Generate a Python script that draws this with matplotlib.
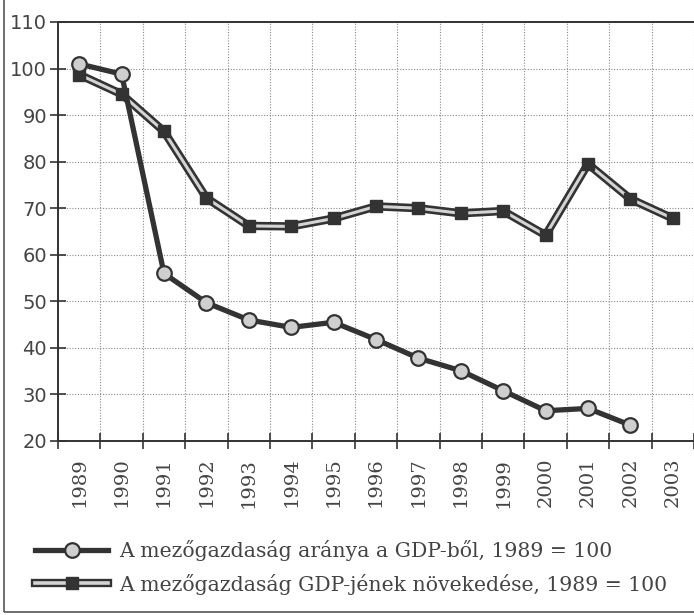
import matplotlib
matplotlib.use("Agg")
import matplotlib.pyplot as plt
from matplotlib.lines import Line2D
from matplotlib.legend_handler import HandlerTuple
from matplotlib.patches import Rectangle
import numpy as np

# data (1989 = 100)
years = ['1989', '1990', '1991', '1992', '1993', '1994', '1995', '1996',
         '1997', '1998', '1999', '2000', '2001', '2002', '2003']
share_of_gdp = [101, 98.8, 56, 49.7, 46, 44.4, 45.5, 41.8, 37.8, 35.1,
                30.8, 26.5, 27, 23.4]
agri_gdp_growth = [98.7, 94.5, 86.5, 72.2, 66.2, 66.1, 67.8, 70.4, 70.0,
                   68.9, 69.4, 64.2, 79.5, 72.0, 67.8]
label_share = 'A mezőgazdaság aránya a GDP-ből, 1989 = 100'
label_growth = 'A mezőgazdaság GDP-jének növekedése, 1989 = 100'

dark = '#333333'
light = '#d4d4d4'
text_col = '#444444'

fig = plt.figure(figsize=(6.94, 6.15), dpi=100)
ax = fig.add_axes([58/694, 1 - 441/615, 1 - 58/694, (441 - 22)/615])

x_all = np.arange(len(years))
x_share = np.arange(len(share_of_gdp))

# growth series: "tube" line (dark outline, light core) + dark squares
ax.plot(x_all, agri_gdp_growth, color=dark, lw=6.0, solid_joinstyle='miter', zorder=3)
ax.plot(x_all, agri_gdp_growth, color=light, lw=2.2, solid_joinstyle='miter', zorder=4)
ax.plot(x_all, agri_gdp_growth, ls='none', marker='s', ms=9, mfc=dark, mec=dark, zorder=5)

# share series: thick dark line with light circles
ax.plot(x_share, share_of_gdp, color=dark, lw=3.8, zorder=6)
ax.plot(x_share, share_of_gdp, ls='none', marker='o', ms=10.5, mfc='#cfcfcf',
        mec=dark, mew=1.6, zorder=7)

ax.set_xlim(-0.5, len(years) - 0.5)
ax.set_ylim(20, 110)
ax.set_yticks(np.arange(20, 111, 10))
ax.set_xticks(np.arange(-0.5, len(years), 1))
ax.set_xticklabels([])
ax.set_xticks(x_all, minor=True)
ax.set_xticklabels(years, minor=True, rotation=90, family='DejaVu Serif',
                   fontsize=14, color=text_col)

ax.tick_params(axis='x', which='major', direction='inout', length=12, width=1.2, color=dark)
ax.tick_params(axis='x', which='minor', length=0, pad=12)
ax.tick_params(axis='y', direction='inout', length=12, width=1.2, color=dark,
               labelsize=14, labelcolor=text_col, pad=2)

ax.grid(True, which='major', color='#8a8a8a', ls=(0, (1, 1.5)), lw=0.8)
ax.set_axisbelow(True)
for side in ['left', 'bottom', 'top']:
    ax.spines[side].set_color(dark)
    ax.spines[side].set_linewidth(1.4)
ax.spines['right'].set_visible(False)

# legend
h_share = (Line2D([], [], color=dark, lw=3.8),
           Line2D([], [], ls='none', marker='o', ms=10.5, mfc='#cfcfcf', mec=dark, mew=1.6))
h_growth = (Line2D([], [], color=dark, lw=6.0),
            Line2D([], [], color=light, lw=2.6),
            Line2D([], [], ls='none', marker='s', ms=9, mfc=dark, mec=dark))
fig.legend([h_share, h_growth], [label_share, label_growth],
           handler_map={tuple: HandlerTuple(ndivide=1)},
           loc='upper left', bbox_to_anchor=(17/694, 1 - 522/615),
           frameon=False, handlelength=3.55, handletextpad=0.55, labelspacing=0.6,
           prop={'family': 'DejaVu Serif', 'size': 14.7}, labelcolor=text_col)

# outer frame of the figure
fig.patches.append(Rectangle((4/694, 3/615), 1.2, 1.2, transform=fig.transFigure,
                             fill=False, ec='#555555', lw=1.2))

fig.savefig('out.png', dpi=100)
